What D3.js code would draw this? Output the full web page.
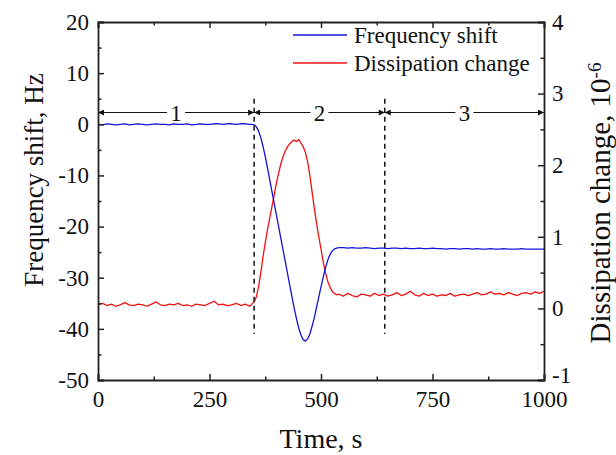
<!DOCTYPE html>
<html><head><meta charset="utf-8">
<script src="https://cdn.jsdelivr.net/npm/d3@7"></script>
<style>
html,body{margin:0;padding:0;background:#fff;}
svg{display:block;font-family:"Liberation Serif","Times New Roman",serif;}
</style></head>
<body>
<svg id="chart" width="616" height="455"></svg>
<script>
// ---------- data ----------
const time = [
  0,10,20,30,40,50,60,70,80,90,100,110,120,130,140,150,160,170,180,190,200,210,220,230,240,250,260,270,280,290,300,310,320,330,340,
  345,350,355,360,365,370,375,380,385,390,395,400,405,410,415,420,425,430,435,440,445,450,455,460,465,470,475,480,485,490,495,500,505,510,515,520,525,530,535,540,
  550,560,570,580,590,600,610,620,630,640,650,660,670,680,690,700,710,720,730,740,750,760,770,780,790,800,810,820,830,840,850,860,870,880,890,900,910,920,930,940,950,960,970,980,990,1000
];
const frequencyShift = [
  0.0,-0.1,0.1,0.0,-0.1,0.0,0.1,-0.1,0.0,0.1,0.0,-0.1,0.0,0.1,0.0,0.0,-0.1,0.1,0.0,0.0,0.1,-0.1,0.0,0.1,0.0,0.0,0.1,0.1,0.0,0.1,0.1,0.0,0.1,0.1,0.0,
  0.0,-0.1,-0.5,-1.3,-2.6,-4.3,-6.3,-8.5,-10.8,-13.1,-15.4,-17.7,-20.0,-22.3,-24.6,-26.9,-29.2,-31.5,-33.8,-36.0,-38.0,-39.8,-41.2,-42.1,-42.4,-42.0,-41.0,-39.5,-37.8,-35.8,-33.8,-31.8,-29.9,-28.1,-26.6,-25.5,-24.8,-24.4,-24.2,-24.1,
  -24.1,-24.2,-24.1,-24.2,-24.2,-24.1,-24.2,-24.3,-24.2,-24.2,
  -24.3,-24.2,-24.2,-24.3,-24.2,-24.3,-24.3,-24.2,-24.3,-24.3,
  -24.2,-24.3,-24.3,-24.4,-24.3,-24.3,-24.4,-24.3,-24.3,-24.4,
  -24.3,-24.4,-24.4,-24.3,-24.4,-24.4,-24.3,-24.4,-24.4,-24.4,
  -24.3,-24.4,-24.4,-24.4,-24.4,-24.4
];
const dissipationChange = [
  0.05,0.07,0.04,0.06,0.03,0.05,0.08,0.05,0.04,0.06,0.05,0.03,0.06,0.09,0.05,0.04,0.06,0.05,0.07,0.04,0.05,0.03,0.06,0.05,0.04,0.07,0.10,0.05,0.06,0.04,0.05,0.07,0.04,0.06,0.03,
  0.06,0.09,0.16,0.30,0.50,0.72,0.92,1.10,1.26,1.42,1.58,1.75,1.89,2.02,2.12,2.20,2.26,2.30,2.33,2.35,2.33,2.36,2.31,2.26,2.18,2.05,1.86,1.63,1.40,1.19,1.00,0.83,0.65,0.50,0.38,0.30,0.24,0.21,0.19,0.20,
  0.17,0.21,0.18,0.16,0.20,0.19,0.17,0.21,0.18,0.20,
  0.17,0.19,0.22,0.18,0.20,0.24,0.19,0.17,0.21,0.18,
  0.20,0.17,0.19,0.18,0.21,0.17,0.19,0.20,0.18,0.20,
  0.22,0.19,0.20,0.23,0.20,0.21,0.19,0.22,0.20,0.18,
  0.21,0.22,0.20,0.23,0.21,0.24
];
const xTicks = [0,250,500,750,1000];
const xMinorTicks = [125,375,625,875];
const yLeftTicks = [-50,-40,-30,-20,-10,0,10,20];
const yLeftMinorTicks = [-45,-35,-25,-15,-5,5,15];
const yRightTicks = [-1,0,1,2,3,4];
const yRightMinorTicks = [-0.5,0.5,1.5,2.5,3.5];
const phaseBounds = [0,350,643,1000];
const phaseLabels = ["1","2","3"];
const phaseArrowLevel = 2.3;      // on frequency axis
const dividerRange = [5,-41];     // on frequency axis
const seriesNames = ["Frequency shift","Dissipation change"];
const seriesColors = ["#1414d8","#f01010"];

// ---------- layout ----------
const L = 98, R = 544, T = 22, B = 380;
const svg = d3.select("#chart");
const x = d3.scaleLinear().domain([0,1000]).range([L,R]);
const yL = d3.scaleLinear().domain([-50,20]).range([B,T]);
const yR = d3.scaleLinear().domain([-1,4]).range([B,T]);
const axisColor = "#222";
const tickFont = 23;
const fmt = d => String(d);   // plain hyphen-minus as in the reference

// defs: arrow markers
const defs = svg.append("defs");
defs.append("marker").attr("id","arr").attr("viewBox","0 0 10 10")
  .attr("refX",10).attr("refY",5).attr("markerWidth",8).attr("markerHeight",6)
  .attr("markerUnits","userSpaceOnUse").attr("orient","auto-start-reverse")
  .append("path").attr("d","M0,0 L10,5 L0,10 Z").attr("fill","#111");

// ---------- series ----------
const lineF = d3.line().x((d,i)=>x(time[i])).y(d=>yL(d));
const lineD = d3.line().x((d,i)=>x(time[i])).y(d=>yR(d));
svg.append("path").attr("d",lineD(dissipationChange)).attr("fill","none")
  .attr("stroke",seriesColors[1]).attr("stroke-width",1.3).attr("stroke-linejoin","round");
svg.append("path").attr("d",lineF(frequencyShift)).attr("fill","none")
  .attr("stroke",seriesColors[0]).attr("stroke-width",1.3).attr("stroke-linejoin","round");

// ---------- phase annotations ----------
const ann = svg.append("g");
phaseBounds.slice(1,-1).forEach(b=>{
  ann.append("line").attr("x1",x(b)).attr("x2",x(b))
    .attr("y1",yL(dividerRange[0])).attr("y2",yL(dividerRange[1]))
    .attr("stroke","#111").attr("stroke-width",1.5).attr("stroke-dasharray","5,4");
});
phaseLabels.forEach((lab,i)=>{
  const a = phaseBounds[i], b = phaseBounds[i+1], m = (a+b)/2;
  const yy = yL(phaseArrowLevel);
  const gap = 9;
  ann.append("line").attr("x1",x(m)-gap).attr("x2",x(a)).attr("y1",yy).attr("y2",yy)
    .attr("stroke","#111").attr("stroke-width",1.2).attr("marker-end","url(#arr)");
  ann.append("line").attr("x1",x(m)+gap).attr("x2",x(b)).attr("y1",yy).attr("y2",yy)
    .attr("stroke","#111").attr("stroke-width",1.2).attr("marker-end","url(#arr)");
  ann.append("text").attr("x",x(m)).attr("y",yy).attr("dy","0.35em")
    .attr("text-anchor","middle").attr("font-size",23).attr("fill","#111").text(lab);
});

// ---------- axes ----------
function styleAxis(g){
  g.select(".domain").attr("stroke",axisColor).attr("stroke-width",1.8);
  g.selectAll(".tick line").attr("stroke",axisColor).attr("stroke-width",1.5);
  g.selectAll("text").attr("font-size",tickFont).attr("fill","#111")
    .attr("font-family","Liberation Serif, Times New Roman, serif");
}
function minor(g){ g.select(".domain").remove(); g.selectAll("line").attr("stroke",axisColor).attr("stroke-width",1.5); }

const gB = svg.append("g").attr("transform",`translate(0,${B})`)
  .call(d3.axisBottom(x).tickValues(xTicks).tickSize(-6).tickPadding(10).tickFormat(fmt));
styleAxis(gB);
gB.selectAll(".tick text").attr("y",26.5).attr("dy",0);
svg.append("g").attr("transform",`translate(0,${B})`)
  .call(d3.axisBottom(x).tickValues(xMinorTicks).tickSize(-3.5).tickFormat("")).call(minor);
const gT = svg.append("g").attr("transform",`translate(0,${T})`)
  .call(d3.axisTop(x).tickValues(xTicks).tickSize(-6).tickFormat(""));
styleAxis(gT);
svg.append("g").attr("transform",`translate(0,${T})`)
  .call(d3.axisTop(x).tickValues(xMinorTicks).tickSize(-3.5).tickFormat("")).call(minor);

const gL = svg.append("g").attr("transform",`translate(${L},0)`)
  .call(d3.axisLeft(yL).tickValues(yLeftTicks).tickSize(-6).tickPadding(9).tickFormat(fmt));
styleAxis(gL);
svg.append("g").attr("transform",`translate(${L},0)`)
  .call(d3.axisLeft(yL).tickValues(yLeftMinorTicks).tickSize(-3.5).tickFormat("")).call(minor);

const gR = svg.append("g").attr("transform",`translate(${R},0)`)
  .call(d3.axisRight(yR).tickValues(yRightTicks).tickSize(-6).tickPadding(8).tickFormat(fmt));
styleAxis(gR);
gR.selectAll(".tick text").filter(d=>d===-1).attr("dy","0.1em");
svg.append("g").attr("transform",`translate(${R},0)`)
  .call(d3.axisRight(yR).tickValues(yRightMinorTicks).tickSize(-3.5).tickFormat("")).call(minor);

// ---------- titles ----------
svg.append("text").attr("x",(L+R)/2).attr("y",448).attr("text-anchor","middle")
  .attr("font-size",28).attr("fill","#111").text("Time, s");
svg.append("text").attr("transform",`translate(43,180) rotate(-90)`)
  .attr("text-anchor","middle").attr("font-size",27).attr("fill","#111").text("Frequency shift, Hz");
const rt = svg.append("text").attr("transform",`translate(610,203) rotate(-90)`)
  .attr("text-anchor","middle").attr("font-size",29).attr("fill","#111");
rt.append("tspan").text("Dissipation change, 10");
rt.append("tspan").attr("dy","-0.45em").attr("font-size",19).text("-6");

// ---------- legend ----------
const lg = svg.append("g");
seriesNames.forEach((n,i)=>{
  const yy = 35 + i*28;
  lg.append("line").attr("x1",293).attr("x2",347).attr("y1",yy).attr("y2",yy)
    .attr("stroke",seriesColors[i]).attr("stroke-width",1.5);
  lg.append("text").attr("x",354).attr("y",yy).attr("dy","0.33em")
    .attr("font-size",23).attr("fill","#111").text(n);
});
</script>
</body></html>
